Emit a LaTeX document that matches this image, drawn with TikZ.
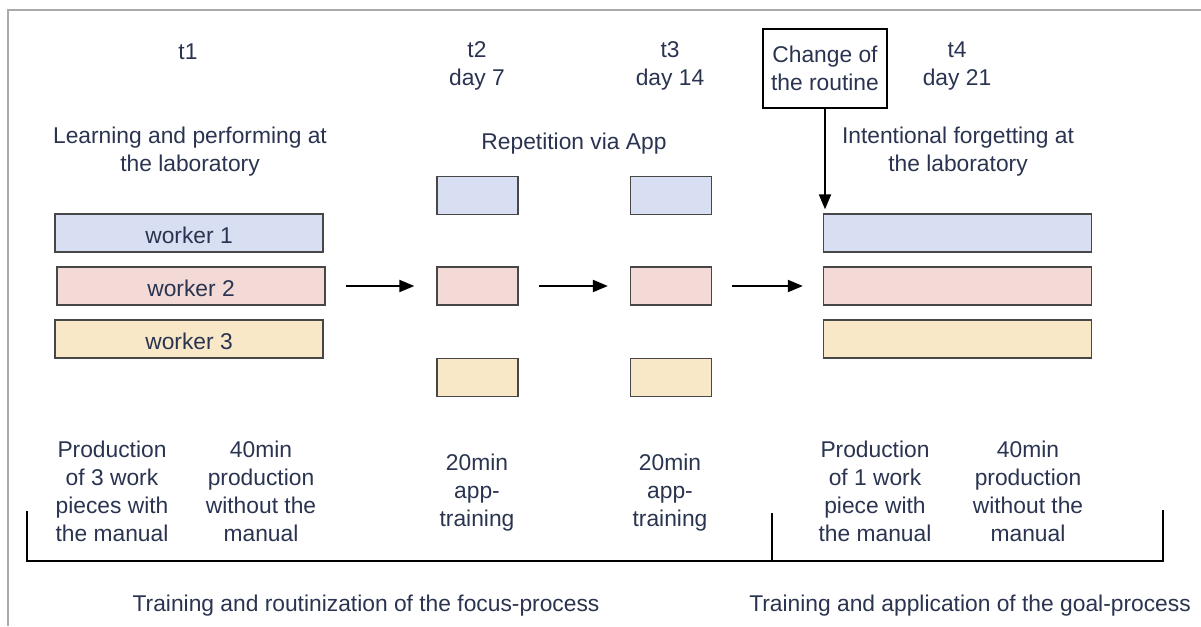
\documentclass[tikz,border=0pt]{standalone}
\usepackage{fontspec}
\setmainfont{Liberation Sans}
\usetikzlibrary{arrows.meta}
\definecolor{ink}{HTML}{2A3450}
\definecolor{edge}{HTML}{474747}
\definecolor{frame}{HTML}{AAAAAA}
\definecolor{wblue}{HTML}{D9DFF3}
\definecolor{wpink}{HTML}{F3DAD7}
\definecolor{wyell}{HTML}{F8E8C8}
\tikzset{
  txt/.style={text=ink, font=\fontsize{22.8}{28}\selectfont, align=center, inner sep=0pt},
  bar/.style={txt, draw=edge, line width=1.3pt, minimum width=268pt, minimum height=38pt},
  cell/.style={draw=edge, line width=1.3pt, inner sep=0pt, minimum width=81pt, minimum height=38pt},
  flow/.style={line width=2pt, -{Triangle[length=15pt,width=12pt]}},
  bracket/.style={line width=2pt, black},
}
\begin{document}
\begin{tikzpicture}[x=1pt,y=-1pt]
\useasboundingbox (0,0) rectangle (1201,626);
% page frame
\draw[frame, line width=1.5pt] (8,626) -- (8,10) -- (1201,10);

% time labels
\node[txt] (t1) at (188,52) {t1};
\node[txt] (t2) at (477,66) {t2\\day 7};
\node[txt] (t3) at (670,66) {t3\\day 14};
\node[txt] (t4) at (957,66) {t4\\day 21};

% phase headings
\node[txt] (h1) at (190,151.5) {Learning and performing at\\the laboratory};
\node[txt] (h2) at (574,144) {Repetition via App};
\node[txt] (h3) at (958,151.5) {Intentional forgetting at\\the laboratory};

% trigger box
\node[txt, draw=black, line width=2.2pt, fill=white, minimum width=124pt, minimum height=79pt] (chg) at (825,68.5) {Change of\\the routine};

% t1 workers
\node[bar, fill=wblue, text height=20pt, text depth=0pt] (w1) at (189,233) {worker 1};
\node[bar, fill=wpink, text height=20pt, text depth=0pt] (w2) at (191,286) {worker 2};
\node[bar, fill=wyell, text height=20pt, text depth=0pt] (w3) at (189,339) {worker 3};

% t2 app sessions
\node[cell, fill=wblue] (a1) at (477.5,195.5) {};
\node[cell, fill=wpink] (a2) at (477.5,286) {};
\node[cell, fill=wyell] (a3) at (477.5,377.5) {};

% t3 app sessions
\node[cell, fill=wblue] (b1) at (671,195.5) {};
\node[cell, fill=wpink] (b2) at (671,286) {};
\node[cell, fill=wyell] (b3) at (671,377.5) {};

% t4 workers
\node[bar, fill=wblue] (c1) at (957.5,233) {};
\node[bar, fill=wpink] (c2) at (957.5,286) {};
\node[bar, fill=wyell] (c3) at (957.5,339) {};

% flow between sessions
\draw[flow, shorten <=20pt, shorten >=22pt] (w2.east) -- (a2.west);
\draw[flow, shorten <=20pt, shorten >=22pt] (a2.east) -- (b2.west);
\draw[flow, shorten <=20pt, shorten >=20pt] (b2.east) -- (c2.west);
\draw[flow, shorten >=4pt] (chg.south) -- (chg.south |- c1.north);

% session descriptions
\node[txt] (d1) at (112,491) {Production\\of 3 work\\pieces with\\the manual};
\node[txt] (d2) at (261,491) {40min\\production\\without the\\manual};
\node[txt] (d3) at (477,492.5) {20min\\app-\\training};
\node[txt] (d4) at (670,492.5) {20min\\app-\\training};
\node[txt] (d5) at (875,491) {Production\\of 1 work\\piece with\\the manual};
\node[txt] (d6) at (1028,491) {40min\\production\\without the\\manual};

% process brackets
\coordinate (bl) at (27,511);
\coordinate (bm) at (772,513);
\coordinate (br) at (1163,510);
\coordinate (base) at (0,561);
\draw[bracket] (bl) -- (bl |- base) -- (br |- base) -- (br);
\draw[bracket] (bm) -- (bm |- base);

\node[txt] (p1) at (366,606) {Training and routinization of the focus-process};
\node[txt] (p2) at (970,606) {Training and application of the goal-process};
\end{tikzpicture}
\end{document}
